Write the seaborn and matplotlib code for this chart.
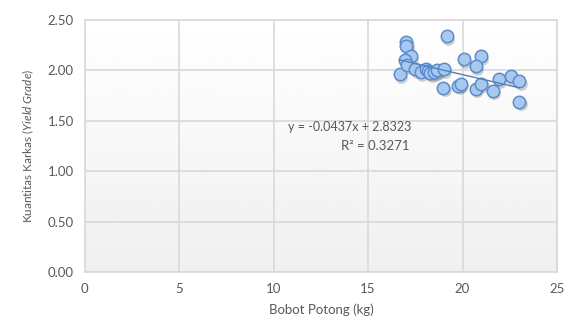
import numpy as np
import pandas as pd
import matplotlib.pyplot as plt
import seaborn as sns

# Bobot potong (kg) vs kuantitas karkas (yield grade)
bobot_potong = [16.67, 17.02, 17.02, 17.25, 16.98, 17.05, 17.5, 17.8, 18.05, 18.18,
                18.3, 18.5, 18.66, 19.0, 19.16, 20.07, 20.96, 20.69, 18.98, 19.77,
                19.9, 20.69, 21.0, 21.6, 21.93, 22.55, 23.0, 23.0]
yield_grade = [1.96, 2.28, 2.24, 2.14, 2.10, 2.05, 2.01, 1.98, 2.01, 1.99,
               1.97, 1.98, 2.00, 2.01, 2.34, 2.11, 2.14, 2.04, 1.83, 1.85,
               1.87, 1.82, 1.87, 1.80, 1.91, 1.94, 1.89, 1.69]
trend_slope = -0.0437
trend_intercept = 2.8323
r_squared = 0.3271

df = pd.DataFrame({'bobot': bobot_potong, 'yg': yield_grade})

sns.set_style('white')
plt.rcParams['font.family'] = ['Lato', 'DejaVu Sans']
plt.rcParams['mathtext.fontset'] = 'custom'
plt.rcParams['mathtext.rm'] = 'Lato'
plt.rcParams['mathtext.it'] = 'Lato:italic'

text_color = '#595959'
grid_color = '#D9D9D9'

fig = plt.figure(figsize=(5.73, 3.34), dpi=100)
ax = fig.add_axes([0.148, 0.186, 0.824, 0.754])

# Plot area gradient (white top -> light grey bottom)
grad = np.linspace(1.0, 0.94, 256).reshape(-1, 1)
ax.imshow(grad, cmap='gray', vmin=0, vmax=1, aspect='auto',
          extent=[0, 25, 0, 2.5], origin='upper', zorder=0)

ax.set_xlim(0, 25)
ax.set_ylim(0, 2.5)
ax.set_xticks(np.arange(0, 26, 5))
ax.set_yticks(np.arange(0, 2.51, 0.5))
ax.set_yticklabels([f'{v:.2f}' for v in np.arange(0, 2.51, 0.5)])
ax.grid(True, color=grid_color, lw=1.2, zorder=1)
ax.set_axisbelow(True)
for sp in ax.spines.values():
    sp.set_color(grid_color)
    sp.set_linewidth(1.2)
ax.tick_params(axis='both', length=0, labelsize=9.5, colors=text_color, pad=8)

# shadow under markers
ax.scatter(np.array(bobot_potong) + 0.08, np.array(yield_grade) - 0.025, s=85,
           color='#000000', alpha=0.18, linewidths=0, zorder=2)
sns.scatterplot(data=df, x='bobot', y='yg', ax=ax, s=80, color='#A8C8F0',
                edgecolor='#5B8CCB', linewidth=1.1, zorder=3)

# linear trendline
xs = np.array([min(bobot_potong), max(bobot_potong)])
ax.plot(xs, trend_slope * xs + trend_intercept, color='#4F81BD', lw=1.0, zorder=4)

ax.text(17.3, 1.44, f'y = {trend_slope}x + {trend_intercept}', ha='right', va='center',
        fontsize=9, color=text_color, zorder=5)
ax.text(17.18, 1.25, f'R² = {r_squared}', ha='right', va='center',
        fontsize=9.5, color=text_color, zorder=5)

ax.set_xlabel('Bobot Potong (kg)', fontsize=9.5, color=text_color, labelpad=6)
ax.set_ylabel(r'Kuantitas Karkas ($\it{Yield\ Grade}$)', fontsize=8.5, color=text_color,
              labelpad=8)

fig.savefig('out.png', dpi=100)
